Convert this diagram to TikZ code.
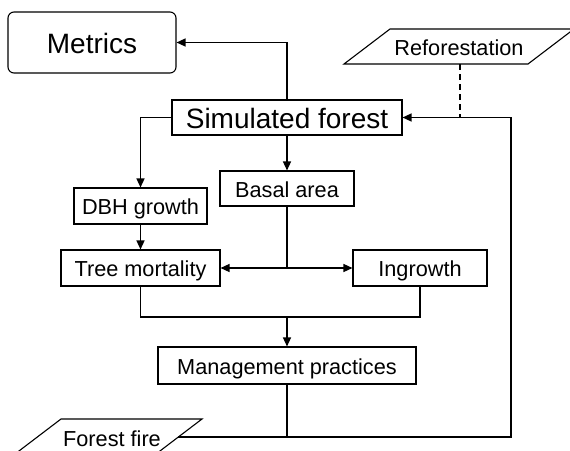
\documentclass[tikz,border=0pt]{standalone}
\usepackage{fontspec}
\setmainfont{Liberation Sans}
\usetikzlibrary{arrows.meta}
\begin{document}
\begin{tikzpicture}[x=1pt,y=-1pt,
 box/.style={draw, line width=1.1pt, inner sep=0pt, anchor=center,
   font=\fontsize{21.7}{24}\selectfont, text height=17.6pt, text depth=0pt},
 big/.style={font=\fontsize{28}{30}\selectfont, text height=21.5pt, text depth=0pt},
 plain/.style={inner sep=0pt, anchor=center,
   font=\fontsize{21.7}{24}\selectfont, text height=17pt, text depth=0pt},
 shapeline/.style={line width=1.1pt},
 conn/.style={line width=1.4pt},
 arr/.style={conn, -{Triangle[length=9pt,width=8pt]}},
 ]
\useasboundingbox (0,0) rectangle (570,450);
% boxes
\node[box,big,rounded corners=6pt, minimum width=168pt, minimum height=61pt] (metrics) at (92,42.5) {Metrics};
\node[box,big, minimum width=230pt, minimum height=35pt] (sim) at (287,117.5) {Simulated forest};
\node[box, minimum width=133pt, minimum height=36pt] (dbh) at (140.5,206) {DBH growth};
\node[box, minimum width=134pt, minimum height=35pt] (basal) at (287,188.5) {Basal area};
\node[box, minimum width=159pt, minimum height=36pt] (tree) at (140.5,268) {Tree mortality};
\node[box, minimum width=134pt, minimum height=36pt] (ingrowth) at (420,268) {Ingrowth};
\node[box, minimum width=258pt, minimum height=37pt] (mgmt) at (287,365.5) {Management practices};
% parallelograms
\draw[shapeline] (390,29) -- (574,29) -- (528,64) -- (344,64) -- cycle;
\node[plain] (refo) at (459,46.5) {Reforestation};
\coordinate (refoS) at (460,64);
\draw[shapeline] (61,419) -- (202,419) -- (156,454) -- (15,454) -- cycle;
\node[plain] (fire) at (112,437.5) {Forest fire};
\coordinate (fireE) at (178.3,437);
% junctions
\coordinate (j1) at (287,268);
\coordinate (j2) at (287,317);
\coordinate (j3) at (287,437);
\coordinate (rc) at (511,437);
% connectors
\draw[arr] (sim.north) |- (metrics.east);
\draw[arr] (sim.west) -| (dbh.north);
\draw[arr] (sim.south) -- (basal.north);
\draw[arr] (dbh.south) -- (tree.north);
\draw[conn] (basal.south) -- (j1);
\draw[arr] (j1) -- (tree.east);
\draw[arr] (j1) -- (ingrowth.west);
\draw[conn] (tree.south) |- (j2) -| (ingrowth.south);
\draw[arr] (j2) -- (mgmt.north);
\draw[conn] (mgmt.south) -- (j3);
\draw[arr] (fireE) -- (rc) |- (sim.east);
\draw[line width=1.1pt, dash pattern=on 6pt off 4pt] (refoS) -- (refoS |- sim.east);
\end{tikzpicture}
\end{document}
